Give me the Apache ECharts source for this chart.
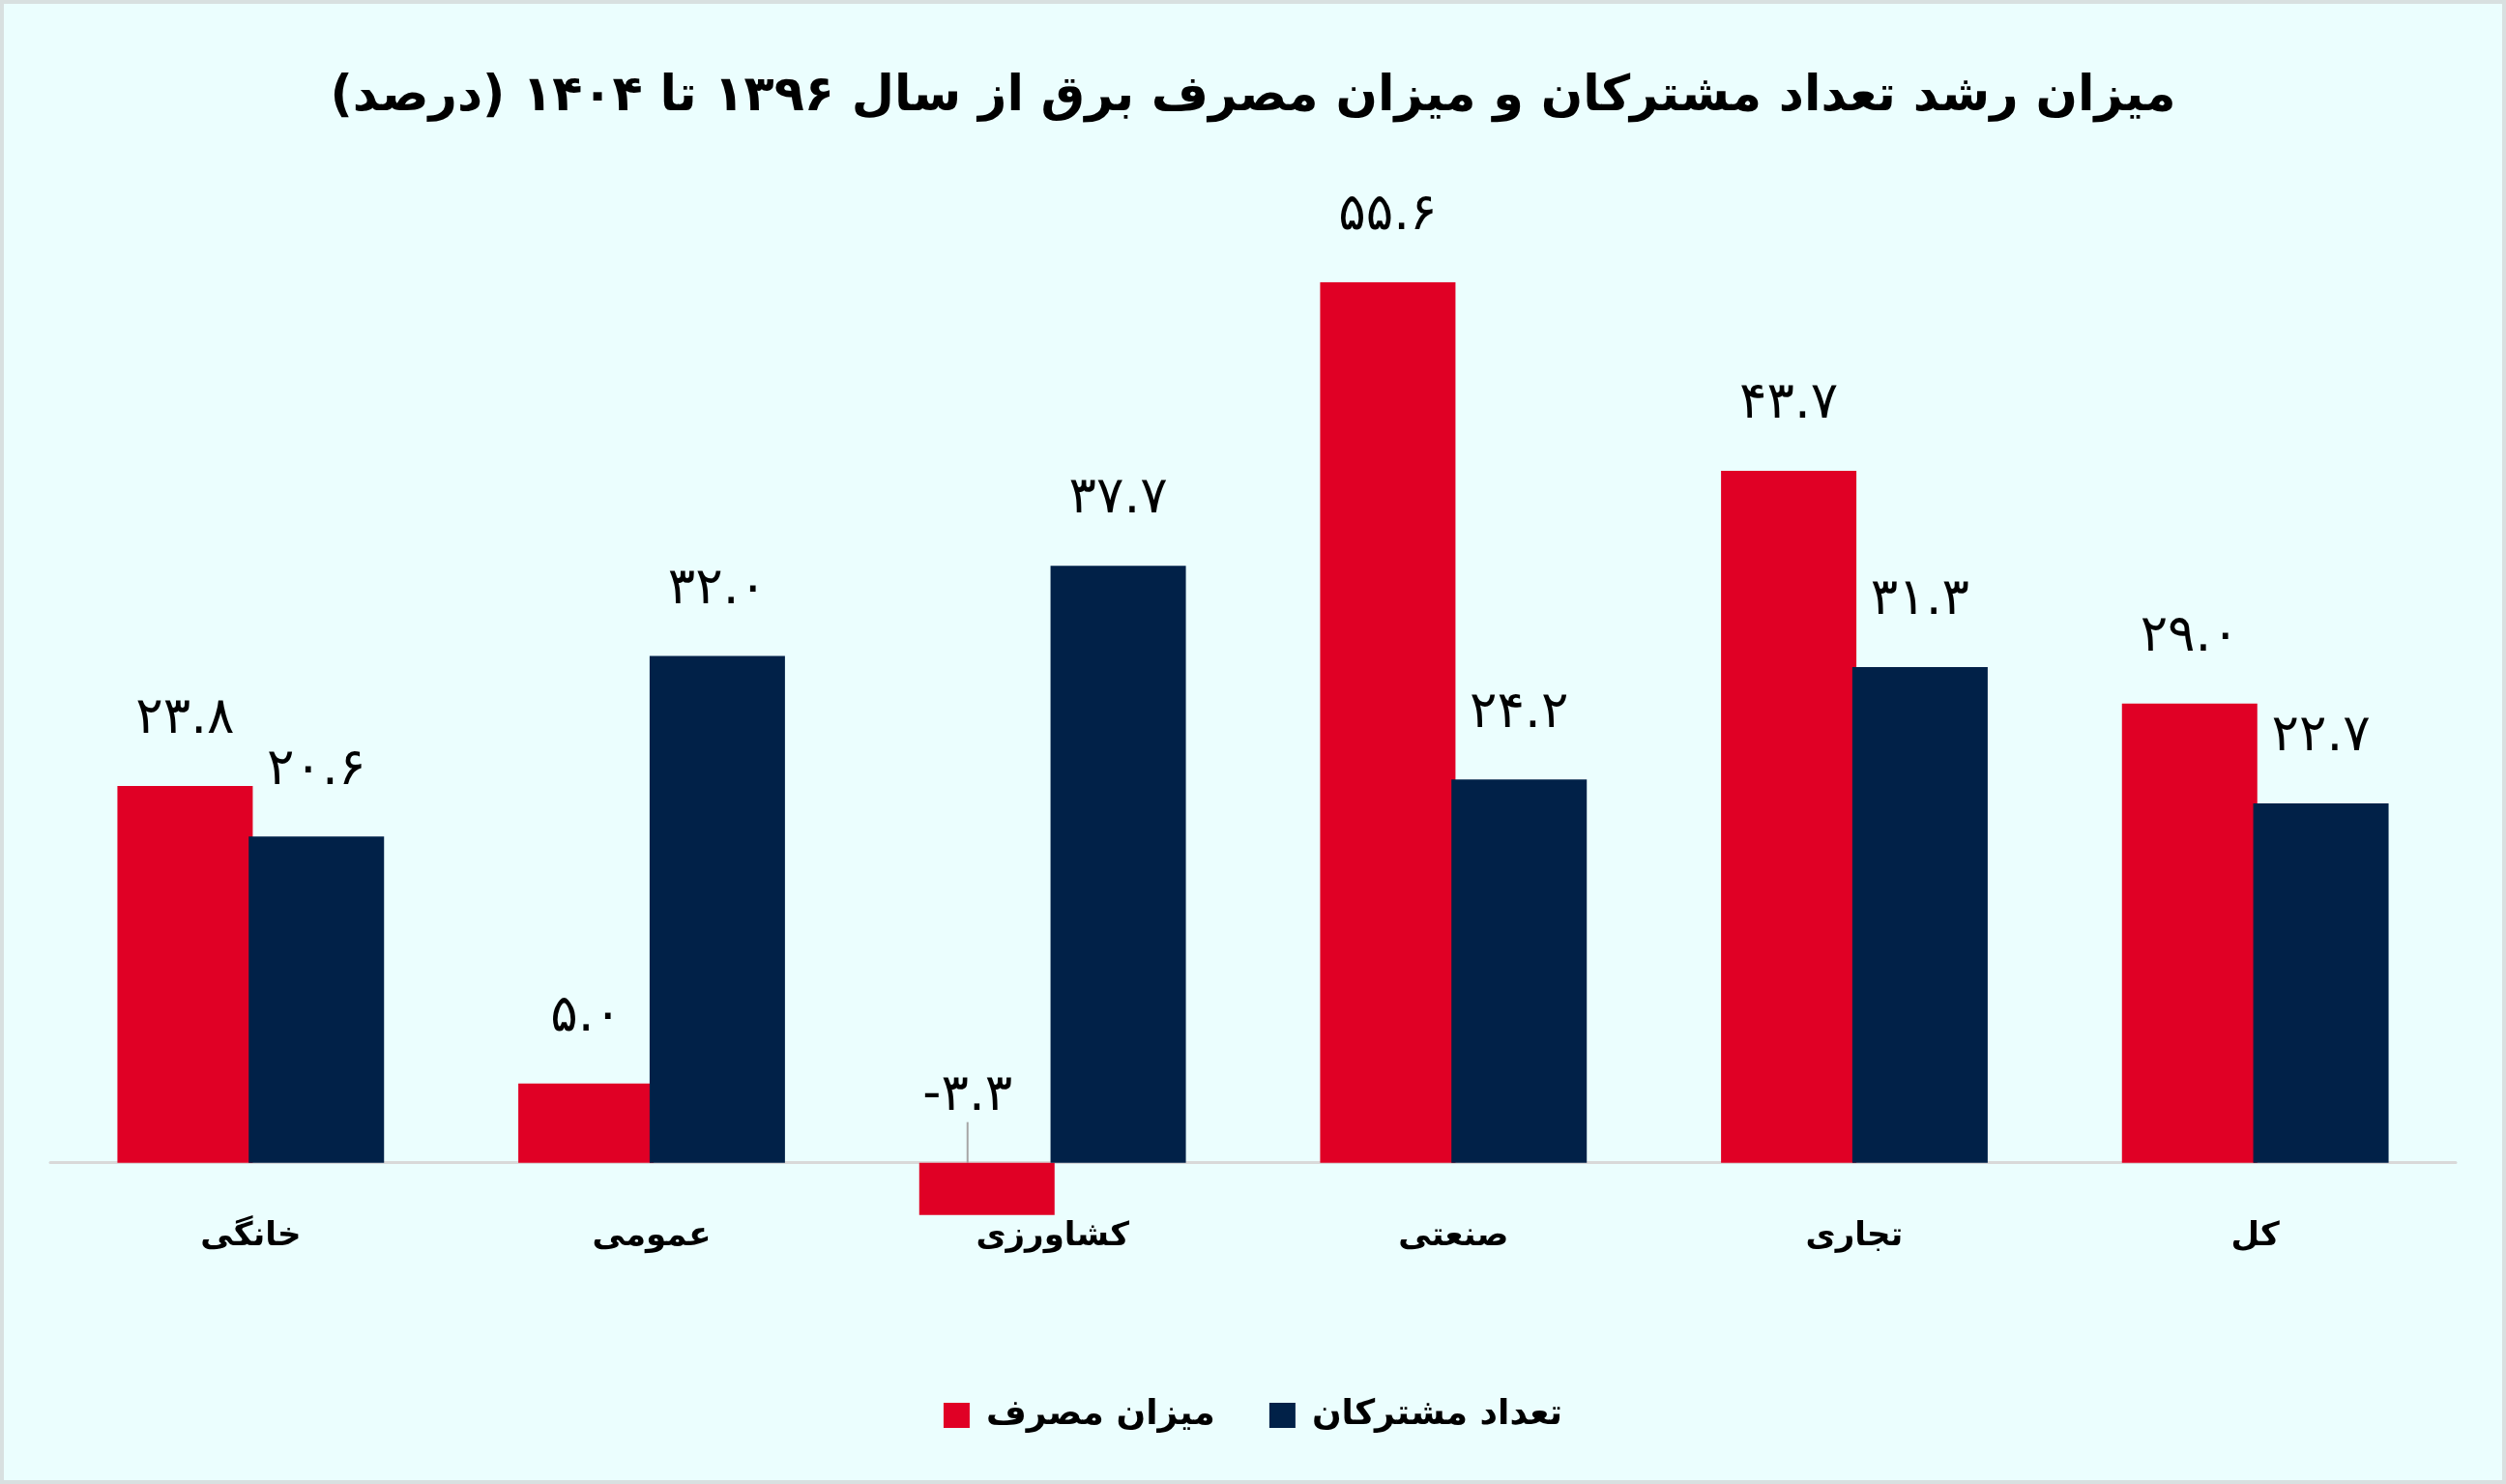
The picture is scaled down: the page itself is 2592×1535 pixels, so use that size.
<!DOCTYPE html>
<html>
<head>
<meta charset="utf-8">
<script src="https://cdn.jsdelivr.net/npm/echarts@6/dist/echarts.min.js"></script>
<style>
    html, body { margin: 0; padding: 0; background: #ebfefe; }
    #chart { width: 2592px; height: 1535px; }
</style>
</head>
<body>
<div id="chart"></div>
<script>
/* ---------------- data ---------------- */
let categories = ['خانگی', 'عمومی', 'کشاورزی', 'صنعتی', 'تجاری', 'کل'];
let consumption = [23.8, 5.0, -3.3, 55.6, 43.7, 29.0];     // میزان مصرف
let subscribers = [20.6, 32.0, 37.7, 24.2, 31.3, 22.7];    // تعداد مشترکان
let seriesNames = ['میزان مصرف', 'تعداد مشترکان'];
let titleText = 'میزان رشد تعداد مشترکان و میزان مصرف برق از سال ۱۳۹۶ تا ۱۴۰۴ (درصد)';

/* ---------------- helpers ---------------- */
let faDigits = '۰۱۲۳۴۵۶۷۸۹';
let toFa = function (v) {
    return v.toFixed(1).replace(/[0-9]/g, function (d) { return faDigits[+d]; });
};

let fontFa = 'DejaVu Sans';

let labelOpt = {
    show: true,
    position: 'top',
    distance: 42,
    color: '#000',
    fontSize: 53,
    fontFamily: fontFa,
    formatter: function (p) { return toFa(p.value); }
};

let option = {
    backgroundColor: '#ebfefe',
    title: {
        // RLM at both ends so the closing bracket stays with the Persian run
        text: '\u200F' + titleText + '\u200F',
        left: 'center',
        top: 70,
        textStyle: { fontFamily: fontFa, fontSize: 51, fontWeight: 'bold', color: '#000' }
    },
    legend: {
        top: 1441,
        left: 'center',
        icon: 'rect',
        itemWidth: 27,
        itemHeight: 26,
        itemGap: 56,
        data: seriesNames,
        textStyle: { fontFamily: fontFa, fontSize: 36, fontWeight: 'bold', color: '#000', padding: [0, 0, 0, 12] }
    },
    grid: { left: 52, right: 52, top: 220, bottom: 275 },
    xAxis: {
        type: 'category',
        data: categories,
        axisLine: { lineStyle: { color: '#d9d9d9', width: 3 } },
        axisTick: { show: false },
        axisLabel: { margin: 2, color: '#000', fontSize: 34, fontWeight: 'bold', fontFamily: fontFa }
    },
    yAxis: {
        type: 'value',
        min: -3.5,
        max: 60,
        show: false,
        splitLine: { show: false }
    },
    graphic: [{
        type: 'rect',
        z: 100,
        silent: true,
        shape: { x: 0, y: 0, width: 2592, height: 1535 },
        style: { fill: 'none', stroke: '#d8e0e0', lineWidth: 8 }
    }],
    series: [
        {
            name: seriesNames[0],
            type: 'bar',
            barWidth: 140,
            barGap: '-3%',
            clip: false,
            itemStyle: { color: '#e00025' },
            label: labelOpt,
            labelLine: { show: false, lineStyle: { color: '#a6a6a6', width: 2 } },
            labelLayout: function (p) {
                // nudge the negative value's label to the left, like the source
                if (consumption[p.dataIndex] < 0) { return { dx: -20 }; }
            },
            data: consumption.map(function (v) {
                return v < 0 ? { value: v, labelLine: { show: true, lineStyle: { color: '#a6a6a6', width: 2 } } } : v;
            })
        },
        {
            name: seriesNames[1],
            type: 'bar',
            barWidth: 140,
            barGap: '-3%',
            itemStyle: { color: '#012148' },
            label: labelOpt,
            data: subscribers
        }
    ]
};

let myChart = echarts.init(document.querySelector('#chart'));
myChart.setOption(option);
</script>
</body>
</html>
